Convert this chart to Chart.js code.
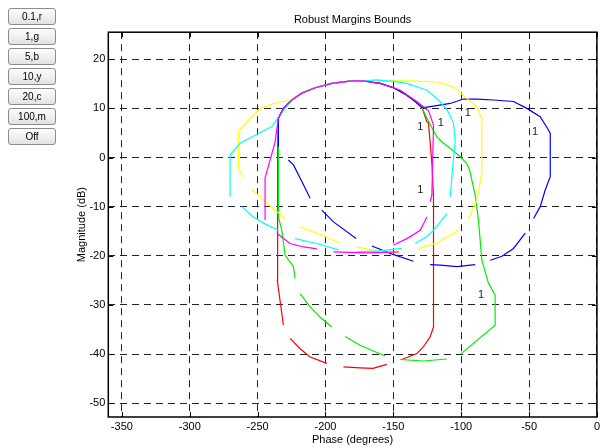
<!DOCTYPE html>
<html>
<head>
<meta charset="utf-8">
<script src="https://cdn.jsdelivr.net/npm/chart.js@4.4.1/dist/chart.umd.min.js"></script>
<style>
  body { margin: 0; background: #fff; }
  #wrap { position: relative; width: 603px; height: 448px; }
  #panel button {
    position: absolute; left: 8px; width: 48px; height: 17px; padding: 0;
    font: 10px "Liberation Sans", Arial, sans-serif; color: #000;
    background: linear-gradient(#fefefe, #e2e2e2);
    border: 1px solid #8c8c8c; border-radius: 3px;
  }
</style>
</head>
<body>
<div id="wrap">
  <canvas id="nichols" width="603" height="448"></canvas>
  <div id="panel"></div>
</div>
<script>
// button captions (frequency, colour)
const buttonLabels = ["0.1,r", "1,g", "5,b", "10,y", "20,c", "100,m", "Off"];

// shared upper arc of the bounds (phase deg, magnitude dB)
const arcPhase = [-234.7, -231.0, -224.8, -217.4, -207.6, -195.3, -180.6, -172.0];
const arcMag   = [8.0, 10.0, 11.7, 13.1, 14.2, 15.1, 15.6, 15.6];
const arcEndPhase = [-159.7, -149.9, -141.3, -133.9, -129.0];
const arcEndMag   = [15.1, 14.2, 12.9, 11.4, 10.2];

// null = break in the bound
const redPhase = [-231.0, -235.5, -235.5, -235.0, ...arcPhase, ...arcEndPhase,
  -125.3, -124.1, -121.6, -120.4, -120.4, -122.9, -127.8, -132.7, -143.7, null,
  -154.8, -165.0, -174.5, -186.8, null, -199.0, -211.3, -218.7, -226.1];
const redMag = [-34.1, -25.0, -10.0, 2.0, ...arcMag, ...arcEndMag,
  7.3, 7.0, -1.2, -8.0, -34.5, -36.5, -38.5, -39.9, -41.1, null,
  -42.1, -42.9, -42.8, -42.6, null, -41.9, -40.6, -38.9, -36.8];

const greenPhase = [-222.4, -223.6, -229.7, -232.2, -234.7, -234.7, ...arcPhase, ...arcEndPhase,
  -125.3, -117.9, -114.2, -100.8, -95.8, -93.9, -89.7, -87.3, -84.8, -79.9, -75.0, -75.0, -100.0, null,
  -110.6, -127.8, -145.0, null, -156.0, -174.5, -185.5, null, -195.3, -203.9, -211.3, -218.7];
const greenMag = [-24.6, -22.2, -19.9, -14.8, -12.0, 2.0, ...arcMag, ...arcEndMag,
  8.0, 4.2, 3.2, 0.2, -1.3, -2.5, -7.6, -12.7, -20.9, -25.6, -28.0, -34.1, -39.9, null,
  -41.0, -41.4, -41.1, null, -40.4, -38.2, -36.4, null, -34.5, -32.5, -30.4, -27.7];

const bluePhase = [-234.7, ...arcPhase, ...arcEndPhase,
  -126.6, -119.2, -108.1, -98.3, -88.5, -76.2, -61.5, -51.6, -41.8, -35.7, -34.4, -34.4, -38.1, -41.8, -46.7, null,
  -52.8, -61.5, -70.0, -78.6, null, -89.7, -103.2, -115.5, -122.9, null,
  -135.2, -152.4, -165.8, null, -177.4, -194.1, -202.7, null, -211.3, -217.4, -223.6, -227.3];
const blueMag = [2.2, ...arcMag, ...arcEndMag,
  10.2, 10.5, 11.0, 11.9, 11.9, 11.7, 11.4, 10.0, 8.3, 5.6, 4.9, -3.9, -6.6, -10.0, -12.4, null,
  -15.4, -18.5, -20.1, -20.9, null, -21.8, -22.2, -21.9, -21.8, null,
  -21.1, -19.5, -18.0, null, -16.5, -13.1, -10.7, null, -8.3, -4.9, -1.5, -0.5];

const yellowPhase = [-260.9, -264.2, -264.2, -254.3, -248.2, -236.0, ...arcPhase.slice(2),
  -159.7, -140.0, -117.9, -105.7, -97.0, -88.5, -84.8, -84.8, -88.5, -94.6, null,
  -102.0, -117.9, -131.4, null, -145.0, -159.7, -176.9, null, -189.2, -206.4, -218.7, null,
  -229.7, -243.2, -254.3];
const yellowMag = [-3.9, -2.2, 5.3, 8.3, 10.0, 11.2, ...arcMag.slice(2),
  15.6, 15.6, 15.4, 14.4, 12.3, 10.3, 8.0, -3.2, -8.7, -12.4, null,
  -14.8, -17.4, -18.5, null, -19.4, -19.2, -18.2, null, -17.4, -15.4, -14.1, null,
  -12.4, -9.3, -6.4];

const cyanPhase = [-270.3, -270.3, -262.9, -249.4, -239.5, -233.3, ...arcPhase.slice(2),
  -162.2, -150.0, -140.0, -132.7, -125.3, -115.5, -110.0, -105.7, -104.4, -105.7, -108.1, null,
  -110.6, -120.4, -125.3, -133.9, null, -143.7, -160.0, -176.9, null, -190.5, -206.4, -222.4, null,
  -234.7, -244.5, -253.1, -261.7];
const cyanMag = [-8.0, 0.5, 2.9, 4.9, 6.3, 8.7, ...arcMag.slice(2),
  15.8, 15.5, 15.1, 14.4, 13.7, 11.4, 9.5, 7.0, 3.2, -0.2, -8.0, null,
  -11.4, -14.8, -16.1, -17.5, null, -18.5, -19.0, -19.2, null, -18.8, -17.5, -16.5, null,
  -14.8, -13.5, -12.1, -10.0];

const magentaPhase = [-244.5, -244.5, -237.1, ...arcPhase, -159.7, -149.9,
  -144.9, -132.7, -124.1, -120.4, -121.6, -122.9, null,
  -125.3, -130.2, -140.0, -149.9, null, -146.0, -170.0, -194.0, null,
  -206.4, -216.0, -226.1, -235.9];
const magentaMag = [-12.7, -4.2, 3.2, ...arcMag, 15.1, 14.2,
  13.7, 11.4, 9.5, 6.6, -7.6, -9.0, null,
  -12.1, -14.8, -16.5, -17.8, null, -19.2, -19.4, -19.2, null,
  -18.6, -18.2, -17.5, -15.4];

// "1" markers on the plot
const labelPhase = [-130.2, -115.1, -95.2, -45.5, -130.2, -85.3];
const labelMag = [6.2, 7.0, 9.0, 5.3, -6.6, -28.0];

const fontFamily = '"Liberation Sans", Arial, sans-serif';

// buttons on the left
const panel = document.getElementById("panel");
buttonLabels.forEach((text, i) => {
  const b = document.createElement("button");
  b.textContent = text;
  b.style.top = (8 + i * 20) + "px";
  panel.appendChild(b);
});

function toPoints(phase, mag) {
  let last = phase[0];
  return phase.map((p, i) => {
    if (p === null) return { x: last, y: null };
    last = p;
    return { x: p, y: mag[i] };
  });
}

const series = [
  { phase: redPhase, mag: redMag, color: "#ff0000" },
  { phase: greenPhase, mag: greenMag, color: "#00ee00" },
  { phase: bluePhase, mag: blueMag, color: "#0000ff" },
  { phase: yellowPhase, mag: yellowMag, color: "#ffff00" },
  { phase: cyanPhase, mag: cyanMag, color: "#00ffff" },
  { phase: magentaPhase, mag: magentaMag, color: "#ff00ff" }
];

// axes box, inward ticks and "1" text
const boxPlugin = {
  id: "box",
  afterDraw(chart) {
    const { ctx, chartArea: a } = chart;
    const xs = chart.scales.x, ys = chart.scales.y;
    ctx.save();
    ctx.strokeStyle = "#000";
    ctx.lineWidth = 1;
    xs.ticks.forEach(t => {
      const px = Math.round(xs.getPixelForValue(t.value)) + 0.5;
      ctx.beginPath();
      ctx.moveTo(px, a.bottom); ctx.lineTo(px, a.bottom - 5);
      ctx.moveTo(px, a.top); ctx.lineTo(px, a.top + 5);
      ctx.stroke();
    });
    ys.ticks.forEach(t => {
      const py = Math.round(ys.getPixelForValue(t.value)) + 0.5;
      ctx.beginPath();
      ctx.moveTo(a.left, py); ctx.lineTo(a.left + 5, py);
      ctx.moveTo(a.right, py); ctx.lineTo(a.right - 5, py);
      ctx.stroke();
    });
    ctx.lineWidth = 1.5;
    ctx.strokeRect(a.left, a.top, a.right - a.left, a.bottom - a.top);
    ctx.fillStyle = "#222";
    ctx.font = "11px " + fontFamily;
    ctx.textAlign = "center";
    ctx.textBaseline = "middle";
    labelPhase.forEach((p, i) => {
      ctx.fillText("1", xs.getPixelForValue(p), ys.getPixelForValue(labelMag[i]));
    });
    ctx.restore();
  }
};

Chart.defaults.font.family = fontFamily;
Chart.defaults.font.size = 11;
Chart.defaults.color = "#000";

new Chart(document.getElementById("nichols"), {
  type: "line",
  data: {
    datasets: series.map((s, i) => ({
      data: toPoints(s.phase, s.mag),
      borderColor: s.color,
      borderWidth: 1.2,
      pointRadius: 0,
      tension: 0,
      spanGaps: false,
      order: series.length - i
    }))
  },
  options: {
    responsive: false,
    animation: false,
    layout: { padding: { left: 70, right: 6, top: 0, bottom: 0 } },
    plugins: {
      legend: { display: false },
      tooltip: { enabled: false },
      title: {
        display: true,
        fullSize: false,
        text: "Robust Margins Bounds",
        font: { size: 11, weight: "normal" },
        color: "#000",
        padding: { top: 13, bottom: 6 }
      }
    },
    scales: {
      x: {
        type: "linear",
        min: -360,
        max: 0,
        afterFit(scale) { scale.height = 31; },
        ticks: { stepSize: 50, includeBounds: false, padding: 3, maxRotation: 0 },
        grid: { color: "#222", lineWidth: 1, drawTicks: false },
        border: { display: false, dash: [7, 5] },
        title: { display: true, text: "Phase (degrees)", padding: { top: 0, bottom: 1 } }
      },
      y: {
        min: -52.8,
        max: 25.5,
        afterFit(scale) { scale.width = 38.3; },
        ticks: { stepSize: 10, includeBounds: false, padding: 3 },
        grid: { color: "#222", lineWidth: 1, drawTicks: false },
        border: { display: false, dash: [7, 5] },
        title: { display: true, text: "Magnitude (dB)", padding: { top: 5, bottom: 0 } }
      }
    }
  },
  plugins: [boxPlugin]
});
</script>
</body>
</html>
